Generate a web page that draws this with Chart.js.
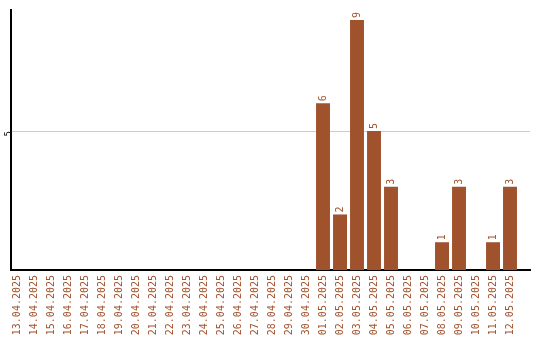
<!DOCTYPE html>
<html><head><meta charset="utf-8">
<script src="https://cdn.jsdelivr.net/npm/chart.js@4/dist/chart.umd.min.js"></script>
<style>html,body{margin:0;padding:0;background:#fff}#w{width:540px;height:340px}</style>
</head><body><div id="w"><canvas id="c"></canvas></div>
<script>
const categories = ["13.04.2025","14.04.2025","15.04.2025","16.04.2025","17.04.2025","18.04.2025","19.04.2025","20.04.2025","21.04.2025","22.04.2025","23.04.2025","24.04.2025","25.04.2025","26.04.2025","27.04.2025","28.04.2025","29.04.2025","30.04.2025","01.05.2025","02.05.2025","03.05.2025","04.05.2025","05.05.2025","06.05.2025","07.05.2025","08.05.2025","09.05.2025","10.05.2025","11.05.2025","12.05.2025"];
const values = [0,0,0,0,0,0,0,0,0,0,0,0,0,0,0,0,0,0,6,2,9,5,3,0,0,1,3,0,1,3];
const yTicks = [5];
const yMax = 9.36;
const BROWN = '#a0522d';

const labelPlugin = {
  id: 'vlabels',
  afterDatasetsDraw(chart) {
    const ctx = chart.ctx;
    const meta = chart.getDatasetMeta(0);
    ctx.save();
    ctx.fillStyle = BROWN;
    ctx.font = '10px "DejaVu Sans Mono"';
    ctx.textAlign = 'left';
    ctx.textBaseline = 'middle';
    meta.data.forEach((bar, i) => {
      const v = values[i];
      if (!v) return;
      ctx.save();
      ctx.translate(bar.x, bar.y - 2);
      ctx.rotate(-Math.PI / 2);
      ctx.fillText(String(v), 0, 0);
      ctx.restore();
    });
    ctx.restore();
  }
};

new Chart(document.getElementById('c'), {
  type: 'bar',
  data: { datasets: [{ data: values.map((v, i) => ({ x: i, y: v })), backgroundColor: BROWN, barPercentage: 0.82, categoryPercentage: 1 }] },
  options: {
    responsive: true, maintainAspectRatio: false, animation: false,
    layout: { padding: { top: 10, right: 10, left: 0, bottom: 0 } },
    plugins: { legend: { display: false }, tooltip: { enabled: false } },
    scales: {
      x: {
        type: 'linear', min: -0.353, max: 30.176, offset: false,
        afterBuildTicks(scale) { scale.ticks = categories.map((c, i) => ({ value: i })); },
        afterFit(scale) { scale.height = 70; },
        grid: { display: false, drawTicks: false },
        border: { display: true, color: '#000', width: 2 },
        ticks: { color: BROWN, font: { family: 'DejaVu Sans Mono', size: 10 }, minRotation: 90, maxRotation: 90, autoSkip: false, padding: 5,
          callback: (v) => categories[v] }
      },
      y: {
        min: 0, max: yMax,
        afterBuildTicks(scale) { scale.ticks = yTicks.map(v => ({ value: v })); },
        afterFit(scale) { scale.width = 11; },
        grid: { color: '#cccccc', drawTicks: false },
        border: { display: true, color: '#000', width: 2 },
        ticks: { color: '#000', font: { family: 'DejaVu Sans', size: 8 }, minRotation: 90, maxRotation: 90, padding: 2 }
      }
    }
  },
  plugins: [labelPlugin]
});
</script></body></html>
